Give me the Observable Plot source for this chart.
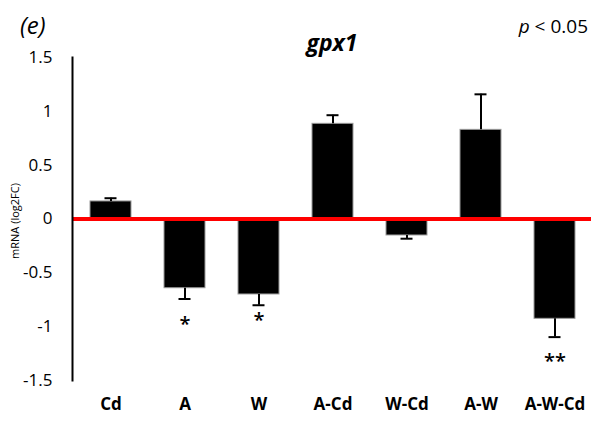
<!DOCTYPE html>
<html>
<head>
<meta charset="utf-8">
<script src="https://cdn.jsdelivr.net/npm/d3@7"></script>
<script src="https://cdn.jsdelivr.net/npm/@observablehq/plot@0.6"></script>
<style>
  html, body { margin: 0; padding: 0; background: #fff; }
  #chart svg { display: block; }
</style>
</head>
<body>
<div id="chart"></div>
<script>
const categories = ["Cd", "A", "W", "A-Cd", "W-Cd", "A-W", "A-W-Cd"];
const values = [0.163, -0.643, -0.701, 0.884, -0.153, 0.828, -0.927];
const errors = [0.03, 0.10, 0.10, 0.08, 0.03, 0.33, 0.17];
const starCategories = ["A", "W", "A-W-Cd"];
const starLabels = ["*", "*", "**"];
const starValues = [-0.96, -0.924, -1.305];
const yTicks = [-1.5, -1, -0.5, 0, 0.5, 1, 1.5];

const data = categories.map((c, i) => ({
  cat: c,
  val: values[i],
  end: values[i] + Math.sign(values[i]) * errors[i]
}));
const stars = starCategories.map((c, i) => ({cat: c, label: starLabels[i], y: starValues[i]}));

const font = "'Open Sans', sans-serif";

const plot = Plot.plot({
  width: 591,
  height: 422,
  marginTop: 57,
  marginBottom: 42,
  marginLeft: 72,
  marginRight: 0,
  style: {fontFamily: font, background: "#fff", color: "#000"},
  x: {domain: categories, range: [72, 593], paddingInner: 0.45, paddingOuter: 0.225, label: null},
  y: {domain: [-1.5, 1.5], label: null},
  marks: [
    Plot.barY(data, {x: "cat", y: "val", fill: "#000", stroke: "#9a9a9a", strokeWidth: 1}),
    Plot.ruleX(data, {x: "cat", y1: "val", y2: "end", stroke: "#000", strokeWidth: 2}),
    Plot.tickY(data, {x: "cat", y: "end", stroke: "#000", strokeWidth: 2, insetLeft: 14.5, insetRight: 14.5}),
    Plot.ruleY([0], {stroke: "#ff0000", strokeWidth: 4}),
    Plot.frame({anchor: "left", stroke: "#000", strokeWidth: 2}),
    Plot.text(stars, {x: "cat", y: "y", text: "label", fontSize: 20, fontWeight: 600, fill: "#000", dy: 2}),
    Plot.axisY({ticks: yTicks, tickSize: 0, tickPadding: 20, tickFormat: d => String(d), fontSize: 17, label: null}),
    Plot.axisX({tickSize: 0, tickPadding: 17, fontSize: 17, fontWeight: "bold", label: null})
  ]
});

document.getElementById("chart").appendChild(plot);

const svg = d3.select(plot);
svg.append("text")
  .attr("x", 20).attr("y", 34)
  .attr("text-anchor", "start")
  .attr("font-family", font).attr("font-size", 24).attr("font-style", "italic")
  .attr("fill", "#000")
  .text("(e)");
svg.append("text")
  .attr("x", 332).attr("y", 51)
  .attr("text-anchor", "middle")
  .attr("font-family", font).attr("font-size", 23).attr("font-style", "italic").attr("font-weight", "bold")
  .attr("fill", "#000")
  .text("gpx1");
const pt = svg.append("text")
  .attr("x", 588).attr("y", 33)
  .attr("text-anchor", "end")
  .attr("font-family", font).attr("font-size", 19)
  .attr("fill", "#000");
pt.append("tspan").attr("font-style", "italic").text("p");
pt.append("tspan").text(" < 0.05");
svg.append("text")
  .attr("transform", "translate(19,221) rotate(-90)")
  .attr("text-anchor", "middle")
  .attr("font-family", font).attr("font-size", 11)
  .attr("fill", "#000")
  .text("mRNA (log2FC)");
</script>
</body>
</html>
